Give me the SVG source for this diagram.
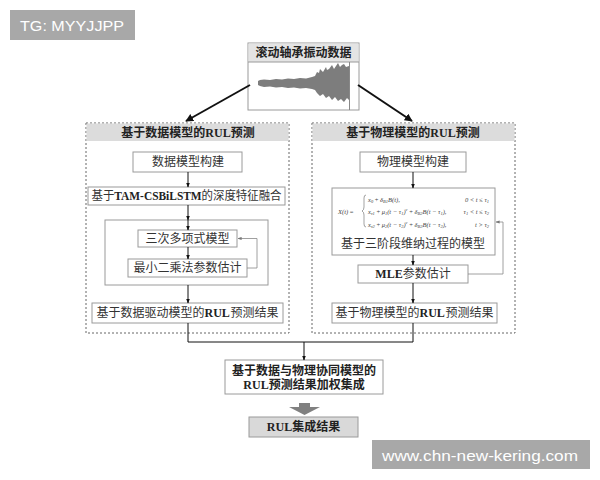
<svg xmlns="http://www.w3.org/2000/svg" width="600" height="480" viewBox="0 0 600 480">
<defs>
<marker id="ah" viewBox="0 0 10 10" refX="9" refY="5" markerWidth="5" markerHeight="5" orient="auto"><path d="M0,1 L10,5 L0,9 z" fill="#111"/></marker>
<marker id="ahBig" viewBox="0 0 10 10" refX="9" refY="5" markerWidth="4" markerHeight="4" orient="auto"><path d="M0,0 L10,5 L0,10 z" fill="#111"/></marker>
<marker id="ahG" viewBox="0 0 10 10" refX="9" refY="5" markerWidth="5" markerHeight="5" orient="auto"><path d="M0,1 L10,5 L0,9 z" fill="#777"/></marker>
<style>
.bx{fill:#fff;stroke:#9a9a9a;stroke-width:1}
.panel{fill:#fff;stroke:#666;stroke-width:1;stroke-dasharray:2 2}
.hdr{fill:#dcdcdc}
.t{font-family:"Liberation Serif","Noto Sans CJK SC",serif;font-size:12px;fill:#333;text-anchor:middle;dominant-baseline:central}
.s{text-anchor:start}
.b{font-weight:bold;fill:#222}
.eq{font-family:"Liberation Serif",serif;font-size:6.5px;font-style:italic;fill:#444;dominant-baseline:central}
.wm{fill:#a8a8a8}
.wt{font-family:"Liberation Sans",Arial,sans-serif;font-size:15px;fill:#fff;dominant-baseline:central}
.ln{fill:none;stroke:#111;stroke-width:1}
.fb{fill:none;stroke:#888;stroke-width:0.8}
</style>
</defs>
<rect width="600" height="480" fill="#fff"/>

<g id="watermark-top"><rect class="wm" x="10" y="10" width="125" height="30"/><text class="wt" x="20" y="25" textLength="104" lengthAdjust="spacingAndGlyphs">TG: MYYJJPP</text></g>
<g id="watermark-bottom"><rect class="wm" x="372" y="440" width="218" height="29"/><text class="wt" x="382" y="455" textLength="196" lengthAdjust="spacingAndGlyphs">www.chn-new-kering.com</text></g>

<g id="panel-left">
<rect class="panel" x="86" y="123" width="203" height="210"/>
<rect class="hdr" x="86.5" y="123.5" width="202" height="17.5"/>
<text class="t b" x="188" y="132.5">基于数据模型的RUL预测</text>
</g>
<g id="panel-right">
<rect class="panel" x="312" y="123" width="203" height="210"/>
<rect class="hdr" x="312.5" y="123.5" width="202" height="17.5"/>
<text class="t b" x="413" y="132.5">基于物理模型的RUL预测</text>
</g>

<g id="vibration-data">
<rect class="bx" x="248" y="43" width="111" height="67"/>
<rect x="248.5" y="43.5" width="110" height="18.5" fill="#e4e4e4"/>
<line x1="248" y1="62" x2="359" y2="62" stroke="#9a9a9a"/>
<text class="t b" x="303.5" y="53" style="font-size:12px">滚动轴承振动数据</text>
<path fill="#7d7d7d" d="M258,81 L260,80 L264,79.5 L270,80 L276,79 L282,79.5 L288,78.5 L294,79 L300,78 L306,78.5 L312,77 L315,76 L317,72 L319,73 L320,69 L323,72 L326,67 L327,70 L329,69 L332,65 L334,69 L336,66 L338,63 L340,67 L342,65 L344,64 L346,67 L349,66 L349,100 L347,98 L344,102 L341,99 L338,101 L335,97 L332,100 L329,96 L326,98 L323,94 L320,96 L317,93 L315,90 L312,89 L306,88 L300,88.5 L294,87.5 L288,88 L282,87 L276,87.5 L270,86.5 L264,87 L260,86 L258,85 Z"/>
<line x1="349.5" y1="62" x2="349.5" y2="110" stroke="#888" stroke-width="1"/>
</g>

<g id="data-model-build"><rect class="bx" x="133" y="152" width="109" height="20"/><text class="t" x="188" y="162">数据模型构建</text></g>
<g id="tam-fusion"><rect class="bx" x="88" y="187" width="197" height="18"/><text class="t" x="186.5" y="196" textLength="190" lengthAdjust="spacingAndGlyphs">基于<tspan class="b">TAM-CSBiLSTM</tspan>的深度特征融合</text></g>
<g id="inner-group"><rect class="bx" x="105" y="220" width="163" height="65"/></g>
<g id="cubic-poly"><rect class="bx" x="138" y="230" width="99" height="17"/><text class="t" x="187.5" y="238.5">三次多项式模型</text></g>
<g id="least-squares"><rect class="bx" x="128" y="259" width="119" height="18"/><text class="t" x="187.5" y="268">最小二乘法参数估计</text></g>
<g id="data-result"><rect class="bx" x="92" y="303" width="191" height="20"/>
<text class="t s" x="96.5" y="313">基于数据驱动模型的</text><text class="t s b" x="204.5" y="313">RUL</text><text class="t s" x="230.5" y="313">预测结果</text></g>

<g id="phys-model-build"><rect class="bx" x="360" y="152" width="106" height="20"/><text class="t" x="413" y="162">物理模型构建</text></g>
<g id="wiener-model">
<rect class="bx" x="332" y="188" width="163" height="67"/>
<text class="eq" x="338" y="211">X(t)<tspan font-style="normal"> = </tspan></text>
<path d="M366,195 q-2,0 -2,3 v9 q0,3 -2,4 q2,1 2,4 v9 q0,3 2,3" fill="none" stroke="#444" stroke-width="0.5"/>
<text class="eq" x="368" y="199">x<tspan font-size="4.5" dy="1.5">0</tspan><tspan dy="-1.5" font-style="normal"> + </tspan>δ<tspan font-size="4.5" dy="1.5">B1</tspan><tspan dy="-1.5">B(t),</tspan></text>
<text class="eq" x="368" y="211">x<tspan font-size="4.5" dy="1.5">τ1</tspan><tspan dy="-1.5" font-style="normal"> + </tspan>μ<tspan font-size="4.5" dy="1.5">1</tspan><tspan dy="-1.5">(t − τ</tspan><tspan font-size="4.5" dy="1.5">1</tspan><tspan dy="-1.5">)</tspan><tspan font-size="4.5" dy="-2.5">v</tspan><tspan dy="2.5" font-style="normal"> + </tspan>δ<tspan font-size="4.5" dy="1.5">B2</tspan><tspan dy="-1.5">B(t − τ</tspan><tspan font-size="4.5" dy="1.5">1</tspan><tspan dy="-1.5">),</tspan></text>
<text class="eq" x="368" y="224">x<tspan font-size="4.5" dy="1.5">τ2</tspan><tspan dy="-1.5" font-style="normal"> + </tspan>μ<tspan font-size="4.5" dy="1.5">2</tspan><tspan dy="-1.5">(t − τ</tspan><tspan font-size="4.5" dy="1.5">2</tspan><tspan dy="-1.5">)</tspan><tspan font-size="4.5" dy="-2.5">v</tspan><tspan dy="2.5" font-style="normal"> + </tspan>δ<tspan font-size="4.5" dy="1.5">B3</tspan><tspan dy="-1.5">B(t − τ</tspan><tspan font-size="4.5" dy="1.5">2</tspan><tspan dy="-1.5">),</tspan></text>
<text class="eq" x="489" y="199" text-anchor="end">0 &lt; t ≤ τ<tspan font-size="4.5" dy="1.5">1</tspan></text>
<text class="eq" x="489" y="211" text-anchor="end">τ<tspan font-size="4.5" dy="1.5">1</tspan><tspan dy="-1.5"> &lt; t ≤ τ</tspan><tspan font-size="4.5" dy="1.5">2</tspan></text>
<text class="eq" x="489" y="224" text-anchor="end">t &gt; τ<tspan font-size="4.5" dy="1.5">2</tspan></text>
<text class="t" x="413" y="244">基于三阶段维纳过程的模型</text>
</g>
<g id="mle"><rect class="bx" x="358" y="265" width="110" height="18"/><text class="t" x="413" y="274"><tspan class="b">MLE</tspan>参数估计</text></g>
<g id="phys-result"><rect class="bx" x="332" y="303" width="165" height="20"/>
<text class="t s" x="335.5" y="313">基于物理模型的</text><text class="t s b" x="419.5" y="313">RUL</text><text class="t s" x="445.5" y="313">预测结果</text></g>

<g id="fusion"><rect class="bx" x="225" y="360" width="158" height="34"/><text class="t b" x="304" y="371">基于数据与物理协同模型的</text><text class="t b" x="304" y="385">RUL预测结果加权集成</text></g>
<g id="final-result"><rect x="249" y="417" width="109" height="20" fill="#d9d9d9" stroke="#9a9a9a"/><text class="t b" x="303.5" y="427">RUL集成结果</text></g>

<g id="connectors">
<line x1="250" y1="85" x2="186" y2="121" stroke="#111" stroke-width="2" marker-end="url(#ahBig)"/>
<line x1="358" y1="85" x2="412" y2="121" stroke="#111" stroke-width="2" marker-end="url(#ahBig)"/>
<line class="ln" x1="188" y1="172" x2="188" y2="187" marker-end="url(#ah)"/>
<line class="ln" x1="188" y1="205" x2="188" y2="220" marker-end="url(#ah)"/>
<line class="ln" x1="188" y1="220" x2="188" y2="230" marker-end="url(#ah)"/>
<line class="ln" x1="188" y1="247" x2="188" y2="259" marker-end="url(#ah)"/>
<line class="ln" x1="188" y1="285" x2="188" y2="303" marker-end="url(#ah)"/>
<path class="fb" d="M247,268 H257 V238.5 H238" marker-end="url(#ahG)"/>
<line class="ln" x1="413" y1="172" x2="413" y2="188" marker-end="url(#ah)"/>
<line class="ln" x1="413" y1="255" x2="413" y2="265" marker-end="url(#ah)"/>
<line class="ln" x1="413" y1="283" x2="413" y2="303" marker-end="url(#ah)"/>
<path class="fb" d="M468,274 H503 V222 H496" marker-end="url(#ahG)"/>
<path class="ln" d="M188,323 V342 H413 V323"/>
<line class="ln" x1="304" y1="342" x2="304" y2="360" marker-end="url(#ah)"/>
<path d="M299,403 H310 V407 H320 L304.5,415 L289,407 H299 Z" fill="#808080"/>
</g>
</svg>
